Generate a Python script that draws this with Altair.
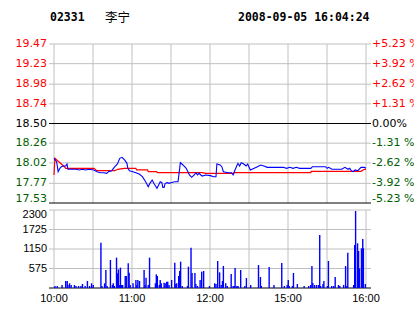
import altair as alt
import pandas as pd

# ---------------- data ----------------
stock_code = "02331"
stock_name = "李宁"
stamp = "2008-09-05 16:04:24"

# minute offset from 10:00 (240 trading minutes: 10:00-12:30, 14:30-16:00)
price_min = [0, 2.0, 3.2, 4.5, 5.7, 7.0, 9.0, 10.0, 10.7, 17, 19.4, 21.9, 24.4, 26.9, 30.7,
             33.1, 35.6, 38.1, 40.6, 41.9, 44.4, 46.8, 48.8, 50.6, 52.3, 54.3, 56.1, 56.8,
             58.1, 60.6, 63.0, 65.5, 68.0, 70.5, 72.5, 73.8, 75.5, 76.8, 79.2, 80.5, 81.7,
             83.0, 83.7, 84.7, 85.5, 87.2, 88.7, 89.7, 92.9, 95.4, 96.2, 97.2, 99.2, 101.7,
             104.2, 105.9, 107.9, 109.1, 110.4, 111.6, 112.9, 114.1, 116.6, 120.3, 122.8,
             124.6, 125.3, 127.8, 129.1, 130.3, 134.0, 136.5, 137.8, 139.0, 140.3, 141.5,
             142.8, 144.0, 146.0, 147.8, 149.0, 151.0, 154.0, 156.5, 159.0, 161.5, 164.0,
             176.4, 178.9, 181.4, 183.9, 186.4, 188.9, 197.6, 198.8, 208.8, 210.1, 211.3,
             213.8, 221.3, 223.8, 226.2, 227.5, 228.7, 230.0, 231.7, 233.7, 236.2, 238.7, 240]
price_val = [18.075, 18.034, 17.912, 17.953, 17.973, 17.981, 17.981, 18.006, 17.941, 17.941,
             17.933, 17.941, 17.933, 17.941, 17.933, 17.912, 17.900, 17.900, 17.892, 17.912,
             17.924, 17.973, 18.006, 18.075, 18.087, 18.055, 18.014, 17.953, 17.924, 17.912,
             17.900, 17.884, 17.851, 17.790, 17.729, 17.770, 17.810, 17.770, 17.709, 17.750,
             17.790, 17.778, 17.721, 17.721, 17.770, 17.778, 17.770, 17.778, 17.790, 17.790,
             17.892, 18.022, 17.994, 17.953, 17.872, 17.843, 17.872, 17.900, 17.872, 17.892,
             17.872, 17.859, 17.872, 17.864, 17.851, 17.851, 18.006, 17.994, 17.973, 17.912,
             17.900, 17.900, 17.872, 17.924, 17.973, 18.014, 17.981, 18.022, 18.006, 17.981,
             18.006, 17.933, 17.953, 17.973, 17.994, 17.981, 17.965, 17.965, 17.953, 17.965,
             17.953, 17.965, 17.953, 17.953, 17.973, 17.973, 17.953, 17.965, 17.941, 17.941,
             17.965, 17.941, 17.953, 17.924, 17.912, 17.933, 17.924, 17.965, 17.965, 17.953]

avg_min = [0, 0.7, 8.2, 9, 30.7, 33, 46.8, 49, 54, 63, 63.5, 72, 72.5, 79, 79.5, 114,
           116.6, 137.8, 139, 197.6, 197.8, 236.2, 238.7, 240]
avg_val = [17.872, 18.075, 17.970, 17.953, 17.953, 17.924, 17.924, 17.941, 17.953, 17.953,
           17.933, 17.933, 17.912, 17.912, 17.900, 17.900, 17.892, 17.892, 17.900, 17.900,
           17.917, 17.917, 17.941, 17.941]

vol_min = [0.75, 2.5, 6.2, 9.0, 10.2, 10.7, 12.0, 13.2, 15.7, 16.9, 18.9, 20.7, 21.9, 23.9,
           25.7, 27.4, 28.9, 30.2, 36.1, 36.9, 38.9, 39.9, 40.9, 43.4, 44.9, 45.6, 46.4, 48.1,
           48.8, 49.6, 50.3, 51.1, 51.8, 52.8, 54.8, 55.6, 57.1, 57.8, 58.6, 60.8, 63.0, 63.8,
           64.5, 65.8, 69.3, 70.0, 70.8, 72.5, 73.5, 78.0, 78.7, 79.5, 81.0, 81.7, 82.5, 84.7,
           85.5, 86.7, 87.5, 88.5, 90.5, 92.9, 93.7, 94.4, 95.9, 96.7, 97.4, 98.7, 102.7,
           103.4, 105.4, 106.2, 108.4, 109.1, 110.4, 112.4, 113.6, 115.1, 119.6, 123.6, 124.6,
           125.9, 127.4, 128.6, 129.6, 130.3, 132.1, 133.3, 136.3, 137.8, 138.6, 139.3, 140.6,
           141.6, 143.6, 146.8, 148.0, 151.3, 157.3, 158.8, 159.5, 165.5, 169.2, 175.2, 177.2,
           179.4, 180.2, 180.9, 183.4, 184.2, 187.2, 192.4, 195.9, 197.4, 198.4, 199.1, 200.4,
           201.9, 203.4, 204.4, 205.1, 206.9, 207.6, 210.3, 211.1, 213.6, 215.1, 216.3, 218.8,
           219.8, 222.8, 224.3, 225.3, 226.0, 230.5, 231.3, 232.0, 233.5, 234.3, 235.0, 236.5,
           237.5, 238.0, 239.5]
vol_val = [59, 59, 88, 206, 206, 88, 138, 88, 88, 59, 59, 59, 118, 59,
           206, 59, 138, 88, 1337, 59, 138, 531, 59, 826, 88, 138, 59, 895,
           433, 550, 88, 600, 88, 88, 354, 354, 727, 452, 88, 138, 236, 88,
           236, 206, 531, 88, 305, 88, 895, 138, 403, 354, 88, 236, 138, 157,
           138, 187, 187, 88, 236, 747, 118, 138, 354, 501, 777, 59, 59,
           629, 1189, 442, 442, 118, 59, 236, 482, 501, 59, 138, 118,
           796, 462, 88, 206, 649, 138, 59, 413, 59, 59, 590, 59,
           59, 531, 59, 295, 88, 678, 324, 59, 619, 88, 737, 59,
           88, 236, 59, 59, 442, 118, 59, 59, 88, 649, 147, 88,
           88, 88, 1563, 59, 118, 206, 59, 796, 59, 59, 324, 88,
           59, 88, 649, 59, 1042, 88, 1268, 2270, 1317, 1091, 580, 1170,
           1445, 1170, 118]

tick_prices = [19.47, 19.23, 18.98, 18.74, 18.50, 18.26, 18.02, 17.77, 17.53]
tick_text = ["19.47", "19.23", "18.98", "18.74", "18.50", "18.26", "18.02", "17.77", "17.53"]
pct_text = ["+5.23 %", "+3.92 %", "+2.62 %", "+1.31 %", "0.00%",
            "-1.31 %", "-2.62 %", "-3.92 %", "-5.23 %"]
tick_color = ["#ff0000"] * 4 + ["#000000"] + ["#006000"] * 4
line_color = ["#c0c0c0"] * 4 + ["#000000"] + ["#c0c0c0"] * 3 + ["#000000"]

vol_ticks = [575, 1150, 1725, 2300]
vol_tick_text = ["575", "1150", "1725", "2300"]
time_grid = [0, 30, 60, 90, 120, 150, 180, 210, 240]
time_ticks = [0, 60, 120, 180, 240]
time_labels = ["10:00", "11:00", "12:00", "15:00", "16:00"]

# ---------------- tables ----------------
price_df = pd.DataFrame({"m": price_min, "p": price_val})
avg_df = pd.DataFrame({"m": avg_min, "p": avg_val})
vol_df = pd.DataFrame({"m": vol_min, "v": vol_val})
ptick_df = pd.DataFrame({"p": tick_prices, "t": tick_text, "r": pct_text,
                         "c": tick_color, "lc": line_color})
vtick_df = pd.DataFrame({"v": vol_ticks, "t": vol_tick_text})
zero_df = pd.DataFrame({"v": [0]})
tgrid_df = pd.DataFrame({"m": time_grid})
tlab_df = pd.DataFrame({"m": time_ticks, "t": time_labels})
one = pd.DataFrame({"a": [0]})

W, H = 322, 244
PH = 159          # price panel height
VT, VB = 166, 244  # volume panel top/bottom

X = alt.Scale(domain=[0, 240], nice=False, zero=False)
PY = alt.Scale(domain=[17.53, 19.47], range=[PH, 0], nice=False, zero=False)
VY = alt.Scale(domain=[0, 2300], range=[VB, VT], nice=False, zero=False)

GRID = "#c0c0c0"
PMIN = min(tick_prices)
VMAX = max(vol_ticks)

# price panel
p_hgrid = alt.Chart(ptick_df).mark_rule(strokeWidth=1).encode(
    y=alt.Y("p:Q", scale=PY, axis=None),
    color=alt.Color("lc:N", scale=None),
    order=alt.Order("lc:N", sort="descending"),
)
p_vgrid = alt.Chart(tgrid_df).mark_rule(color=GRID, strokeWidth=1).encode(
    x=alt.X("m:Q", scale=X, axis=None), y=alt.value(0), y2=alt.value(PH)
)
avg_line = alt.Chart(avg_df).mark_line(color="#ff0000", strokeWidth=1.2).encode(
    x=alt.X("m:Q", scale=X, axis=None), y=alt.Y("p:Q", scale=PY, axis=None),
    order="m:Q"
)
price_line = alt.Chart(price_df).mark_line(color="#0000ff", strokeWidth=1.1).encode(
    x=alt.X("m:Q", scale=X, axis=None), y=alt.Y("p:Q", scale=PY, axis=None),
    order="m:Q"
)


def price_labels(field, align, xpos):
    base = alt.Chart(ptick_df)
    enc = dict(
        x=alt.value(xpos), y=alt.Y("p:Q", scale=PY, axis=None), text=f"{field}:N",
        color=alt.Color("c:N", scale=None),
    )
    upper = base.transform_filter(f"datum.p > {PMIN}").mark_text(
        align=align, baseline="middle", font="DejaVu Sans", fontSize=11
    ).encode(**enc)
    lowest = base.transform_filter(f"datum.p <= {PMIN}").mark_text(
        align=align, baseline="bottom", font="DejaVu Sans", fontSize=11, dy=1
    ).encode(**enc)
    return [upper, lowest]


left_labs = price_labels("t", "right", -2)
right_labs = price_labels("r", "left", W + 1)

# volume panel
v_hgrid = alt.Chart(vtick_df).mark_rule(color=GRID, strokeWidth=1).encode(
    y=alt.Y("v:Q", scale=VY, axis=None)
)
v_vgrid = alt.Chart(tgrid_df).mark_rule(color=GRID, strokeWidth=1).encode(
    x=alt.X("m:Q", scale=X, axis=None), y=alt.value(VT), y2=alt.value(VB)
)
v_zero = alt.Chart(zero_df).mark_rule(color="#000000", strokeWidth=1).encode(
    y=alt.Y("v:Q", scale=VY, axis=None)
)
bars = alt.Chart(vol_df).mark_bar(size=1.4, color="#0000ff").encode(
    x=alt.X("m:Q", scale=X, axis=None), y=alt.Y("v:Q", scale=VY, axis=None)
)
v_lab_low = alt.Chart(vtick_df).transform_filter(f"datum.v < {VMAX}").mark_text(
    align="right", baseline="middle", font="Liberation Sans", fontSize=11, color="#000000"
).encode(x=alt.value(-2), y=alt.Y("v:Q", scale=VY, axis=None), text="t:N")
v_lab_top = alt.Chart(vtick_df).transform_filter(f"datum.v >= {VMAX}").mark_text(
    align="right", baseline="top", font="Liberation Sans", fontSize=11, color="#000000", dy=-1
).encode(x=alt.value(-2), y=alt.Y("v:Q", scale=VY, axis=None), text="t:N")
t_lab = alt.Chart(tlab_df).mark_text(
    align="center", baseline="middle", font="Liberation Sans", fontSize=11, color="#000000"
).encode(x=alt.X("m:Q", scale=X, axis=None), y=alt.value(VB + 11), text="t:N")

# header
h1 = alt.Chart(one).mark_text(
    text=stock_code, align="left", baseline="alphabetic", font="DejaVu Sans Mono",
    fontWeight="bold", fontSize=11.5, color="#000000"
).encode(x=alt.value(1), y=alt.value(-23))
h2 = alt.Chart(one).mark_text(
    text=stock_name, align="left", baseline="alphabetic", font="Noto Sans CJK SC",
    fontSize=12.5, color="#000000"
).encode(x=alt.value(56), y=alt.value(-22))
h3 = alt.Chart(one).mark_text(
    text=stamp, align="left", baseline="alphabetic", font="DejaVu Sans Mono",
    fontWeight="bold", fontSize=11.5, color="#000000"
).encode(x=alt.value(189), y=alt.value(-23))

chart = alt.layer(
    p_vgrid, p_hgrid, avg_line, price_line, *left_labs, *right_labs,
    v_vgrid, v_hgrid, v_zero, bars, v_lab_low, v_lab_top, t_lab, h1, h2, h3
).resolve_scale(y="independent").properties(
    width=W, height=H,
    autosize=alt.AutoSizeParams(type="none"),
    padding={"left": 49, "top": 44, "right": 43, "bottom": 26},
    background="#ffffff",
).configure_view(stroke=None)

chart.save("out.html", embed_options={"renderer": "svg", "actions": False})
